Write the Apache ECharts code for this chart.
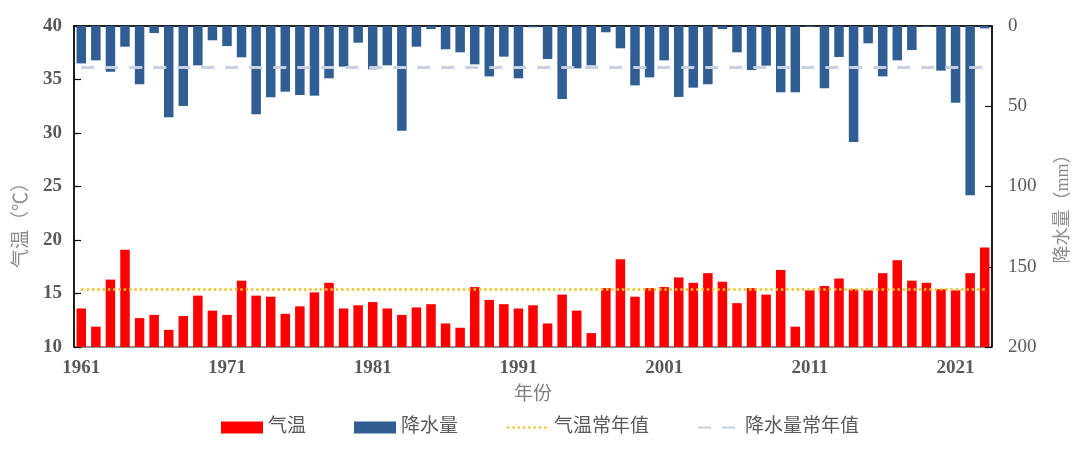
<!DOCTYPE html>
<html>
<head>
<meta charset="utf-8">
<script src="https://cdn.jsdelivr.net/npm/echarts@6/dist/echarts.min.js"></script>
<style>html,body{margin:0;padding:0;background:#fff}#c{width:1080px;height:450px}</style>
</head>
<body>
<div id="c"></div>
<script>
const years = ['1961','1962','1963','1964','1965','1966','1967','1968','1969','1970',
'1971','1972','1973','1974','1975','1976','1977','1978','1979','1980',
'1981','1982','1983','1984','1985','1986','1987','1988','1989','1990',
'1991','1992','1993','1994','1995','1996','1997','1998','1999','2000',
'2001','2002','2003','2004','2005','2006','2007','2008','2009','2010',
'2011','2012','2013','2014','2015','2016','2017','2018','2019','2020',
'2021','2022','2023'];
const temperature = [13.6,11.9,16.3,19.1,12.7,13.0,11.6,12.9,14.8,13.4,
13.0,16.2,14.8,14.7,13.1,13.8,15.1,16.0,13.6,13.9,
14.2,13.6,13.0,13.7,14.0,12.2,11.8,15.6,14.4,14.0,
13.6,13.9,12.2,14.9,13.4,11.3,15.5,18.2,14.7,15.5,
15.6,16.5,16.0,16.9,16.1,14.1,15.5,14.9,17.2,11.9,
15.3,15.7,16.4,15.4,15.3,16.9,18.1,16.2,16.0,15.4,
15.3,16.9,19.3];
const precipitation = [23.3,21.4,28.5,12.9,36.3,4.4,56.9,49.8,24.5,8.9,
12.5,19.5,55.0,44.4,40.9,43.0,43.4,32.6,25.3,10.4,
27.0,24.5,65.2,12.9,1.9,14.5,16.4,23.9,31.4,19.1,
32.6,0.8,20.6,45.5,26.4,24.5,3.9,13.9,37.0,32.0,
21.4,44.2,38.4,36.3,1.9,16.4,27.4,24.7,41.3,41.3,
0.6,38.8,19.3,72.3,10.8,31.4,21.4,15.0,0.6,27.8,
47.8,105.5,1.5];
const tempNormal = 15.4;
const precipNormal = 25.7;

const FONT = "'Liberation Serif', 'Noto Sans CJK SC', serif";
const chart = echarts.init(document.getElementById('c'));
const dottedStyle = {color:'#eec21c', width:2.5, type:[2.5,2.8]};
const dashedStyle = {color:'#c6d0e0', width:3.2, type:[13,11]};
chart.setOption({
  animation:false,
  textStyle:{fontFamily:FONT},
  grid:{left:74, right:83, top:26, bottom:103, show:true, borderColor:'#222', borderWidth:1.2, backgroundColor:'transparent'},
  legend:{
    left:216, top:413, itemWidth:42, itemHeight:12, itemGap:48,
    textStyle:{fontSize:19, color:'#595959', fontFamily:FONT},
    data:[
      {name:'气温', icon:'rect'},
      {name:'降水量', icon:'rect'},
      {name:'气温常年值', itemStyle:{opacity:0}},
      {name:'降水量常年值', itemStyle:{opacity:0}}
    ]
  },
  xAxis:{
    type:'category', data:years,
    name:'年份', nameLocation:'middle', nameGap:39,
    nameTextStyle:{fontSize:19, color:'#7f7f7f', fontFamily:FONT},
    axisLine:{lineStyle:{color:'#000', width:1.5}},
    axisTick:{inside:true, length:5, interval:0, lineStyle:{color:'#000', width:1.2}},
    axisLabel:{interval:9, fontSize:19, fontWeight:'bold', color:'#595959', margin:12, fontFamily:FONT}
  },
  yAxis:[
    {
      type:'value', min:10, max:40, interval:5,
      name:'气温（℃）', nameLocation:'middle', nameGap:42, nameRotate:90,
      nameTextStyle:{fontSize:19, color:'#8c8c8c', fontFamily:FONT, padding:[0,68,0,0]},
      axisLine:{show:true, lineStyle:{color:'#000', width:1.5}},
      axisTick:{show:true, inside:true, length:7, lineStyle:{color:'#000', width:1.2}},
      axisLabel:{fontSize:19, fontWeight:'bold', color:'#595959', margin:12, fontFamily:FONT},
      splitLine:{show:false}
    },
    {
      type:'value', min:0, max:200, interval:50, inverse:true, position:'right',
      name:'降水量（mm）', nameLocation:'middle', nameGap:62, nameRotate:90,
      nameTextStyle:{fontSize:18, color:'#8c8c8c', fontFamily:FONT, padding:[0,36,0,0]},
      axisLine:{show:true, lineStyle:{color:'#000', width:1.5}},
      axisTick:{show:true, inside:true, length:7, lineStyle:{color:'#000', width:1.2}},
      axisLabel:{fontSize:19, color:'#595959', margin:16, fontFamily:FONT},
      splitLine:{show:false}
    }
  ],
  series:[
    {name:'气温', type:'bar', yAxisIndex:0, data:temperature, barWidth:9.5, barGap:'-100%',
     itemStyle:{color:'#ff0000'}},
    {name:'降水量', type:'bar', yAxisIndex:1, data:precipitation, barWidth:9.5, barGap:'-100%',
     itemStyle:{color:'#2f5d94'}},
    {name:'气温常年值', type:'line', yAxisIndex:0, data:[], symbol:'none',
     itemStyle:{color:dottedStyle.color}, lineStyle:dottedStyle, z:5,
     markLine:{silent:true, symbol:'none', label:{show:false}, lineStyle:dottedStyle,
       data:[[{coord:[years[0], tempNormal]},{coord:[years[years.length-1], tempNormal]}]]}},
    {name:'降水量常年值', type:'line', yAxisIndex:1, data:[], symbol:'none',
     itemStyle:{color:dashedStyle.color}, lineStyle:dashedStyle, z:5,
     markLine:{silent:true, symbol:'none', label:{show:false}, lineStyle:dashedStyle,
       data:[[{coord:[years[0], precipNormal]},{coord:[years[years.length-1], precipNormal]}]]}}
  ]
});
</script>
</body>
</html>
